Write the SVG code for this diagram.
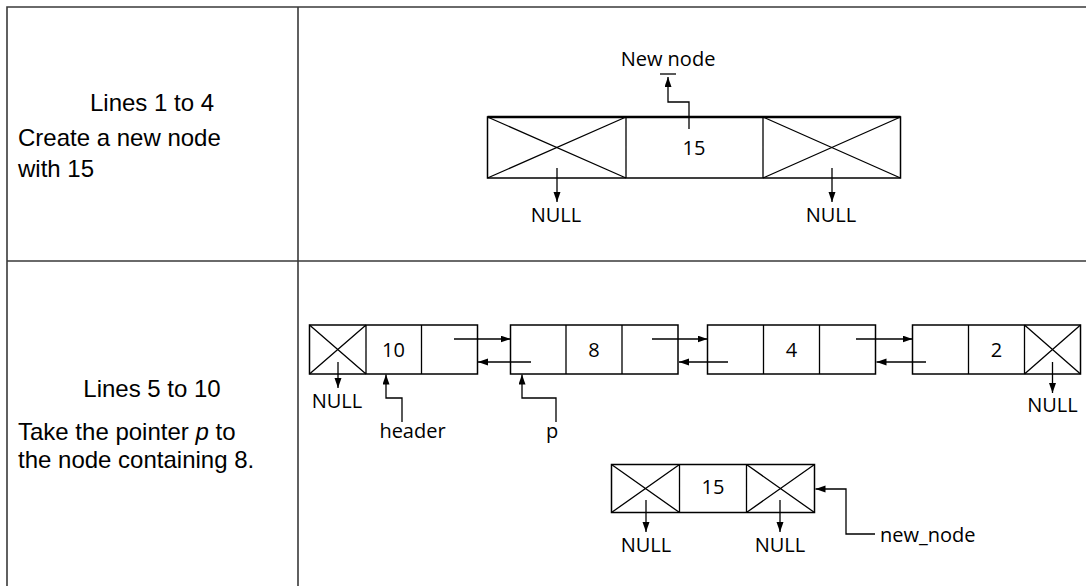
<svg xmlns="http://www.w3.org/2000/svg" width="1086" height="586" viewBox="0 0 1086 586">
<defs>
<marker id="ah" markerUnits="userSpaceOnUse" markerWidth="11" markerHeight="8" refX="10" refY="3.5" orient="auto"><path d="M0,0 L10,3.5 L0,7 z" fill="#000"/></marker>
<style>
.tbl{stroke:#3a3a3a;stroke-width:1.6;fill:none}
.box{stroke:#000;stroke-width:1.5;fill:#fff}
.ln{stroke:#000;stroke-width:1.3;fill:none}
.ar{stroke:#000;stroke-width:1.3;fill:none;marker-end:url(#ah)}
.lt{font-family:"Liberation Sans",Arial,sans-serif;font-size:24px;fill:#000}
.rt{font-family:"Open Sans","Noto Sans",sans-serif;font-size:20px;fill:#000}
.c{text-anchor:middle}
</style>
</defs>
<rect width="1086" height="586" fill="#fff"/>
<g id="table">
<path class="tbl" d="M7,586 V7 H1086 M298,7 V586 M7,261 H1086"/>
</g>
<g id="left-labels">
<text class="lt c" x="152" y="111">Lines 1 to 4</text>
<text class="lt" x="18" y="145.5">Create a new node</text>
<text class="lt" x="18" y="176.5">with 15</text>
<text class="lt c" x="152" y="396.5">Lines 5 to 10</text>
<text class="lt" x="18" y="439.5">Take the pointer <tspan font-style="italic">p</tspan> to</text>
<text class="lt" x="18" y="468">the node containing 8.</text>
</g>
<g id="top-node">
<rect class="box" x="487.5" y="117" width="413" height="61"/>
<path class="ln" d="M626,117 V178 M763,117 V178 M487.5,117 L626,178 M487.5,178 L626,117 M763,117 L900.5,178 M763,178 L900.5,117"/>
<line x1="487.5" y1="117" x2="900.5" y2="117" stroke="#000" stroke-width="2.5"/>
<text class="rt c" x="694" y="155">15</text>
</g>
<g id="top-labels">
<text class="rt c" x="668" y="66">New node</text>
<line class="ln" x1="660" y1="74" x2="676" y2="74"/>
<text class="rt c" x="556" y="222">NULL</text>
<text class="rt c" x="831" y="222">NULL</text>
</g>
<g id="node-10">
<rect class="box" x="309.5" y="325" width="168" height="49"/>
<path class="ln" d="M366,325 V374 M421.5,325 V374 M309.5,325 L366,374 M309.5,374 L366,325"/>
<text class="rt c" x="393.5" y="357">10</text>
</g>
<g id="node-8">
<rect class="box" x="510.5" y="325" width="167.5" height="49"/>
<path class="ln" d="M566,325 V374 M622,325 V374"/>
<text class="rt c" x="594" y="357">8</text>
</g>
<g id="node-4">
<rect class="box" x="707.5" y="325" width="168" height="49"/>
<path class="ln" d="M763.5,325 V374 M819.5,325 V374"/>
<text class="rt c" x="791.5" y="357">4</text>
</g>
<g id="node-2">
<rect class="box" x="912.5" y="325" width="168" height="49"/>
<path class="ln" d="M968.5,325 V374 M1024.5,325 V374 M1024.5,325 L1080.5,374 M1024.5,374 L1080.5,325"/>
<text class="rt c" x="996.5" y="357">2</text>
</g>
<g id="new-node">
<rect class="box" x="611.5" y="464.5" width="203" height="48"/>
<path class="ln" d="M679.5,464.5 V512.5 M746.5,464.5 V512.5 M611.5,464.5 L679.5,512.5 M611.5,512.5 L679.5,464.5 M746.5,464.5 L814.5,512.5 M746.5,512.5 L814.5,464.5"/>
<text class="rt c" x="713" y="494">15</text>
</g>
<g id="bottom-labels">
<text class="rt c" x="337" y="408">NULL</text>
<text class="rt c" x="412.5" y="438">header</text>
<text class="rt c" x="552" y="438">p</text>
<text class="rt c" x="1052.5" y="412">NULL</text>
<text class="rt c" x="646" y="552">NULL</text>
<text class="rt c" x="780" y="552">NULL</text>
<text class="rt" x="880" y="542">new_node</text>
</g>
<g id="connectors">
<path class="ar" d="M689,129 V102 H668 V77"/>
<path class="ar" d="M557,168 V202"/>
<path class="ar" d="M832,168 V202"/>
<path class="ar" d="M454,339 H510.5"/>
<path class="ar" d="M531,362 H478"/>
<path class="ar" d="M652,339 H707.5"/>
<path class="ar" d="M728,362 H679"/>
<path class="ar" d="M856,339 H912.5"/>
<path class="ar" d="M926,362 H876.5"/>
<path class="ar" d="M338,362 V388"/>
<path class="ar" d="M402,422 V398 H386 V374.5"/>
<path class="ar" d="M556,422 V398 H522 V374.5"/>
<path class="ar" d="M1052.5,362 V393"/>
<path class="ar" d="M646,500 V532"/>
<path class="ar" d="M780,500 V532"/>
<path class="ar" d="M875,534 H846 V489 H815.5"/>
</g>
</svg>
